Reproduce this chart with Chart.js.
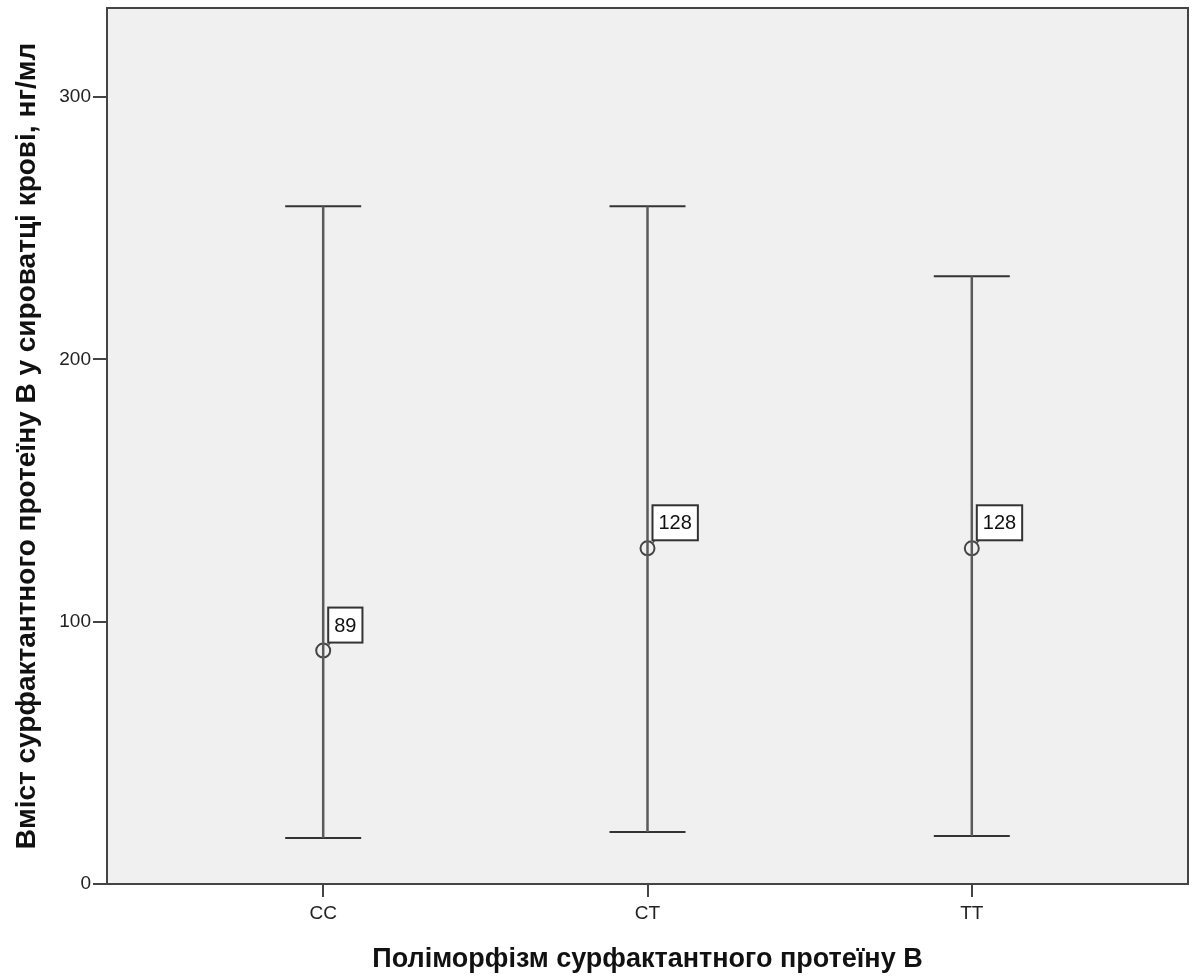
<!DOCTYPE html>
<html lang="uk">
<head>
<meta charset="UTF-8">
<title>Поліморфізм сурфактантного протеїну В</title>
<script src="https://cdn.jsdelivr.net/npm/chart.js"></script>
<style>
  html, body { margin: 0; padding: 0; background: #fff; }
  #wrap { width: 1195px; height: 976px; }
</style>
</head>
<body>
<div id="wrap"><canvas id="grafik"></canvas></div>
<script>
// дані
const kategorii = ['CC', 'CT', 'TT'];
const seredni = [89, 128, 128];
const nyzhni = [17.5, 19.8, 18.3];
const verkhni = [258.4, 258.4, 231.7];
const pidpysy = ['89', '128', '128'];
const yTicks = [0, 100, 200, 300];

const lineColor = '#5a5a5a';
const font = "'Liberation Sans', Arial, sans-serif";

// набори даних: вертикальні лінії, засічки, середні
const datasets = [];
kategorii.forEach((k, i) => {
  datasets.push({
    type: 'line',
    data: [{x: i + 1, y: nyzhni[i]}, {x: i + 1, y: verkhni[i]}],
    borderColor: lineColor,
    borderWidth: 2.5,
    pointRadius: 0
  });
});
datasets.push({
  type: 'scatter',
  data: kategorii.map((k, i) => ({x: i + 1, y: verkhni[i]}))
    .concat(kategorii.map((k, i) => ({x: i + 1, y: nyzhni[i]}))),
  pointStyle: 'line',
  pointRadius: 38,
  pointHoverRadius: 38,
  borderColor: '#333',
  borderWidth: 2
});
datasets.push({
  type: 'scatter',
  data: kategorii.map((k, i) => ({x: i + 1, y: seredni[i]})),
  pointStyle: 'circle',
  pointRadius: 7,
  pointBackgroundColor: 'rgba(0,0,0,0)',
  pointBorderColor: '#444',
  pointBorderWidth: 2
});
const meanIndex = datasets.length - 1;

// фон і рамка області графіка
const tloPlugin = {
  id: 'tlo',
  beforeDraw(chart) {
    const {ctx, chartArea: a} = chart;
    ctx.save();
    ctx.fillStyle = '#f0f0f0';
    ctx.fillRect(a.left, a.top, a.right - a.left, a.bottom - a.top);
    ctx.restore();
  },
  afterDraw(chart) {
    const {ctx, chartArea: a} = chart;
    ctx.save();
    ctx.strokeStyle = '#444';
    ctx.lineWidth = 2;
    ctx.strokeRect(a.left, a.top, a.right - a.left, a.bottom - a.top);
    ctx.restore();
  }
};

// підписи біля середніх значень
const pidpysPlugin = {
  id: 'pidpys',
  afterDatasetsDraw(chart) {
    const ctx = chart.ctx;
    const meta = chart.getDatasetMeta(meanIndex);
    ctx.save();
    ctx.font = '20px ' + font;
    meta.data.forEach((pt, i) => {
      const t = pidpysy[i];
      const w = ctx.measureText(t).width + 12;
      const h = 35;
      const bx = pt.x + 5, by = pt.y - 8 - h;
      ctx.strokeStyle = '#555';
      ctx.lineWidth = 1.5;
      ctx.beginPath();
      ctx.moveTo(pt.x + 5, pt.y - 5);
      ctx.lineTo(bx + 2, by + h);
      ctx.stroke();
      ctx.fillStyle = '#fff';
      ctx.fillRect(bx, by, w, h);
      ctx.strokeStyle = '#333';
      ctx.lineWidth = 2;
      ctx.strokeRect(bx, by, w, h);
      ctx.fillStyle = '#111';
      ctx.textAlign = 'left';
      ctx.textBaseline = 'middle';
      ctx.fillText(t, bx + 6, by + h / 2 + 1);
    });
    ctx.restore();
  }
};

new Chart(document.getElementById('grafik'), {
  data: {datasets},
  plugins: [tloPlugin, pidpysPlugin],
  options: {
    responsive: true,
    maintainAspectRatio: false,
    animation: false,
    layout: {autoPadding: false, padding: {top: 8, right: 7, left: 0, bottom: 0}},
    plugins: {legend: {display: false}, tooltip: {enabled: false}},
    scales: {
      x: {
        type: 'linear',
        min: 1 / 3,
        max: 11 / 3,
        afterBuildTicks: s => { s.ticks = kategorii.map((k, i) => ({value: i + 1})); },
        afterFit: s => { s.height = 92; s.paddingLeft = 0; s.paddingRight = 0; },
        ticks: {
          callback: v => kategorii[v - 1],
          color: '#222',
          font: {family: font, size: 19},
          padding: 5,
          maxRotation: 0
        },
        grid: {drawOnChartArea: false, drawTicks: true, tickLength: 13, color: '#444', lineWidth: 2},
        border: {display: true, color: '#444', width: 2},
        title: {
          display: true,
          text: 'Поліморфізм сурфактантного протеїну В',
          color: '#111',
          font: {family: font, size: 27, weight: 'bold'},
          padding: {top: 10, bottom: 0}
        }
      },
      y: {
        min: 0,
        max: 334,
        afterBuildTicks: s => { s.ticks = yTicks.map(v => ({value: v})); },
        afterFit: s => { s.width = 107; s.paddingTop = 0; s.paddingBottom = 0; },
        ticks: {
          color: '#222',
          font: {family: font, size: 19},
          padding: 2
        },
        grid: {drawOnChartArea: false, drawTicks: true, tickLength: 14, color: '#444', lineWidth: 2},
        border: {display: true, color: '#444', width: 2},
        title: {
          display: true,
          text: 'Вміст сурфактантного протеїну В у сироватці крові, нг/мл',
          color: '#111',
          font: {family: font, size: 28, weight: 'bold'},
          padding: {top: 10, bottom: 0}
        }
      }
    }
  }
});
</script>
</body>
</html>
